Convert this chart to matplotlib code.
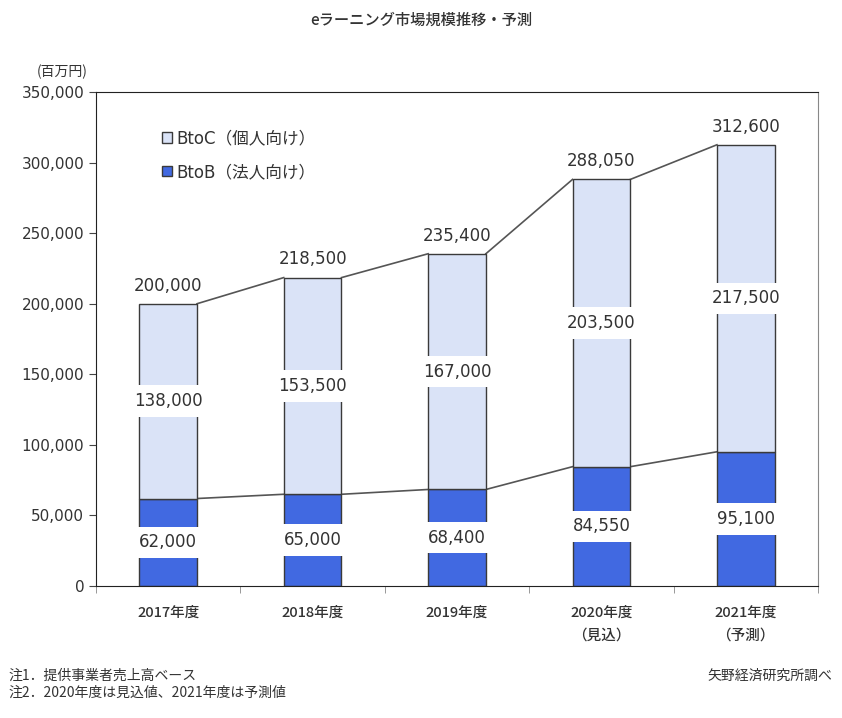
import numpy as np
import matplotlib
matplotlib.use("Agg")
import matplotlib.pyplot as plt
from matplotlib.patches import Patch
from matplotlib.ticker import FuncFormatter

plt.rcParams['font.family'] = ['DejaVu Sans', 'Noto Sans CJK JP']

years = ["2017年度", "2018年度", "2019年度", "2020年度\n（見込）", "2021年度\n（予測）"]
btob = [62000, 65000, 68400, 84550, 95100]
btoc = [138000, 153500, 167000, 203500, 217500]
totals = [200000, 218500, 235400, 288050, 312600]

c_btoc = "#dae3f7"
c_btob = "#4169e1"
txt = "#333333"
edge = "#3a3a3a"
w = 0.4

fig = plt.figure(figsize=(8.42, 7.18), dpi=100)
ax = fig.add_axes([0.114, 0.1838, 0.8575, 0.6881])

x = np.arange(len(years))
ax.bar(x, btob, w, color=c_btob, edgecolor=edge, linewidth=1, zorder=2)
ax.bar(x, btoc, w, bottom=btob, color=c_btoc, edgecolor=edge, linewidth=1, zorder=2)

# connector lines between bar tops
for i in range(len(x) - 1):
    ax.plot([x[i] + w / 2, x[i + 1] - w / 2], [btob[i], btob[i + 1]],
            color="#555555", lw=1.2, zorder=1)
    ax.plot([x[i] + w / 2, x[i + 1] - w / 2], [totals[i], totals[i + 1]],
            color="#555555", lw=1.2, zorder=1)

box = dict(boxstyle="square,pad=0.4", fc="white", ec="none")
for i in range(len(x)):
    ax.text(x[i], btob[i] / 2, f"{btob[i]:,}", ha="center", va="center",
            fontsize=12, color=txt, bbox=box, zorder=3)
    ax.text(x[i], btob[i] + btoc[i] / 2, f"{btoc[i]:,}", ha="center", va="center",
            fontsize=12, color=txt, bbox=box, zorder=3)
    ax.text(x[i], totals[i] + 6500, f"{totals[i]:,}", ha="center", va="bottom",
            fontsize=12, color=txt, zorder=3)

ax.set_xlim(-0.5, len(years) - 0.5)
ax.set_ylim(0, 350000)
ax.set_yticks(np.arange(0, 350001, 50000))
ax.yaxis.set_major_formatter(FuncFormatter(lambda v, p: f"{int(v):,}"))
ax.tick_params(axis="y", labelsize=11, colors=txt, length=5, direction="out")
ax.set_xticks(x)
ax.set_xticklabels(years, fontsize=10.5, color=txt, linespacing=1.8,
                   family=['Noto Sans CJK JP'], fontweight="medium")
ax.tick_params(axis="x", length=0, pad=14)
ax.set_xticks(np.arange(-0.5, len(years), 1), minor=True)
ax.tick_params(axis="x", which="minor", length=5, color="#888888")
ax.tick_params(axis="y", color="#444444")

for s in ["left", "bottom", "top"]:
    ax.spines[s].set_color("#222222")
ax.spines["right"].set_color("#888888")

handles = [Patch(facecolor=c_btoc, edgecolor=edge, label="BtoC（個人向け）"),
           Patch(facecolor=c_btob, edgecolor=edge, label="BtoB（法人向け）")]
ax.legend(handles=handles, loc="upper left", bbox_to_anchor=(0.07, 0.955),
          frameon=False, fontsize=12, handlelength=0.6, handleheight=0.6,
          handletextpad=0.3, labelspacing=0.95, labelcolor=txt)

fig.text(0.5, 1 - 20 / 718, "eラーニング市場規模推移・予測", ha="center", va="center",
         fontsize=11, color=txt, family=['Noto Sans CJK JP'], fontweight="medium")
fig.text(62 / 842, 1 - 72 / 718, "(百万円)", ha="center", va="center",
         fontsize=10, color=txt, family=['Noto Sans CJK JP'])
fig.text(8 / 842, 1 - 676 / 718, "注1．提供事業者売上高ベース", ha="left", va="center",
         fontsize=10, color=txt, family=['Noto Sans CJK JP'])
fig.text(8 / 842, 1 - 693 / 718, "注2．2020年度は見込値、2021年度は予測値", ha="left",
         va="center", fontsize=10, color=txt, family=['Noto Sans CJK JP'])
fig.text(832 / 842, 1 - 676 / 718, "矢野経済研究所調べ", ha="right", va="center",
         fontsize=10, color=txt, family=['Noto Sans CJK JP'])

fig.savefig("out.png", dpi=100)
